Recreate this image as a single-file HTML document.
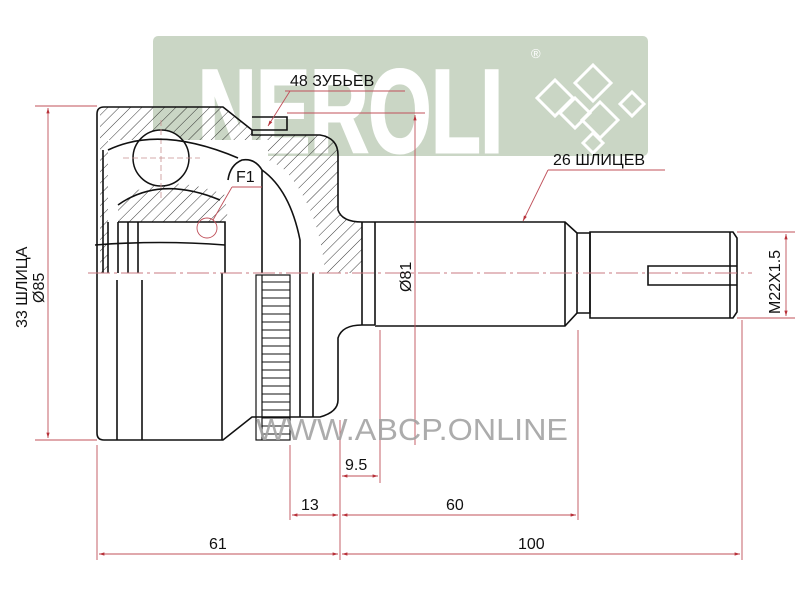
<!DOCTYPE html>
<html><head><meta charset="utf-8"><style>
html,body{margin:0;padding:0;background:#fff}
svg{display:block}
text{font-family:"Liberation Sans","DejaVu Sans",sans-serif}
</style></head><body>
<svg width="800" height="600" viewBox="0 0 800 600" xmlns="http://www.w3.org/2000/svg">
<defs>
<pattern id="h" width="8" height="8" patternUnits="userSpaceOnUse" patternTransform="rotate(45)">
<line x1="0" y1="0" x2="0" y2="8" stroke="#222" stroke-width="0.9"/>
</pattern>
<marker id="a" viewBox="0 0 10 10" refX="10" refY="5" markerWidth="9" markerHeight="6" orient="auto-start-reverse"><path d="M0,2 L10,5 L0,8z" fill="#b8323a"/></marker>
</defs>
<!-- logo -->
<rect x="153" y="36" width="495" height="120" rx="5" fill="#cad6c5"/>
<text x="198" y="152" font-size="118" font-weight="bold" fill="#fff" textLength="305" lengthAdjust="spacingAndGlyphs" stroke="#fff" stroke-width="3">NEROLI</text>
<text x="531" y="58" font-size="13" fill="#fff">®</text>
<g fill="none" stroke="#fff" stroke-width="3">
<path d="M555,80 L573,98 L555,116 L537,98z"/><path d="M593,65 L611,83 L593,101 L575,83z"/>
<path d="M600,102 L618,120 L600,138 L582,120z"/><path d="M632,92 L644,104 L632,116 L620,104z"/>
<path d="M575,98 L590,113 L575,128 L560,113z"/><path d="M593,133 L603,143 L593,153 L583,143z"/>
</g>
<!-- hatched body top half -->
<path d="M100,107 L223,107 L252,130 L252,135 L320,135 Q338,138 338,155 L338,210 Q340,220 362,222 L362,273 L100,273z" fill="url(#h)"/>
<rect x="108" y="140" width="160" height="133" fill="#fff"/>
<path d="M118,200 Q165,170 225,195 L228,222 L118,222z" fill="url(#h)"/>
<path d="M228,180 Q235,135 285,170 Q320,210 325,273 L265,273 L265,190z" fill="#fff"/>
<circle cx="161" cy="158" r="28" fill="#fff" stroke="#111" stroke-width="1.5"/>
<g stroke="#c89090" stroke-width="0.8" fill="none" stroke-dasharray="6,3">
<line x1="161" y1="120" x2="161" y2="200"/><line x1="123" y1="158" x2="200" y2="158"/>
</g>
<!-- body outline -->
<g fill="none" stroke="#111" stroke-width="1.6">
<path d="M104,107 L223,107 L252,130 L252,135 L320,135 Q338,138 338,155 L338,210 Q342,222 362,222 L375,222"/>
<path d="M104,440 L223,440 L252,417 L320,417 Q338,412 338,400 L338,338 Q342,325 362,325 L375,325"/>
<path d="M104,107 Q97,107 97,114 L97,433 Q97,440 104,440"/>
<path d="M252,117 L287,117 L287,130 L252,130"/>
<line x1="103" y1="150" x2="103" y2="273"/>
<path d="M108,222 L108,273 M118,222 L118,273 M128,222 L128,273 M138,222 L138,273"/>
<path d="M118,222 L225,222 L225,273"/>
<path d="M117,280 L117,440 M142,280 L142,440 M222,273 L222,440"/>
<path d="M228,180 Q230,165 242,160 Q255,158 262,170 L262,273"/>
<path d="M262,170 Q290,190 300,240 L300,273"/>
<path d="M108,150 Q160,125 238,158"/>
<path d="M95,245 Q160,240 225,245"/>
<path d="M118,205 Q160,175 220,200"/>
<path d="M313,273 L313,417 M300,273 L300,417"/>
</g>
<!-- ABS ring -->
<g stroke="#111" stroke-width="1.2" fill="none">
<rect x="256" y="275" width="34" height="165"/>
<line x1="262" y1="275" x2="262" y2="440"/>
</g>
<g stroke="#111" stroke-width="1">
<path d="M262,282H290M262,290H290M262,298H290M262,306H290M262,314H290M262,322H290M262,330H290M262,338H290M262,346H290M262,354H290M262,362H290M262,370H290M262,378H290M262,386H290M262,394H290M262,402H290M262,410H290M262,418H290M262,426H290M262,434H290"/>
</g>
<!-- shaft -->
<g fill="none" stroke="#111" stroke-width="1.6">
<path d="M362,222 L362,325 M375,222 L375,325"/>
<path d="M375,222 L565,222 L577,233 L577,313 L565,326 L375,326"/>
<path d="M565,222 L565,326"/>
<path d="M577,233 L590,233 L590,313 L577,313"/>
<path d="M590,232 L733,232 L737,238 L737,312 L733,318 L590,318 Z"/>
<line x1="730" y1="232" x2="730" y2="318"/>
<path d="M737,266 L648,266 L648,285 L737,285"/>
</g>
<!-- centerline -->
<line x1="88" y1="273" x2="752" y2="273" stroke="#c87a80" stroke-width="1" stroke-dasharray="22,4,3,4"/>
<!-- red dimension lines -->
<g stroke="#c0505a" stroke-width="0.9" fill="none">
<line x1="35" y1="106" x2="97" y2="106"/><line x1="35" y1="440" x2="97" y2="440"/>
<line x1="48" y1="108" x2="48" y2="438" marker-start="url(#a)" marker-end="url(#a)"/>
<line x1="97" y1="445" x2="97" y2="560"/>
<line x1="340" y1="420" x2="340" y2="560"/>
<line x1="742" y1="320" x2="742" y2="560"/>
<line x1="290" y1="445" x2="290" y2="520"/>
<line x1="380" y1="330" x2="380" y2="483"/>
<line x1="578" y1="330" x2="578" y2="520"/>
<line x1="415" y1="115" x2="415" y2="445" marker-start="url(#a)"/>
<line x1="287" y1="113" x2="425" y2="113"/>
<line x1="99" y1="554" x2="338" y2="554" marker-start="url(#a)" marker-end="url(#a)"/>
<line x1="342" y1="554" x2="740" y2="554" marker-start="url(#a)" marker-end="url(#a)"/>
<line x1="292" y1="515" x2="338" y2="515" marker-start="url(#a)" marker-end="url(#a)"/>
<line x1="342" y1="515" x2="576" y2="515" marker-start="url(#a)" marker-end="url(#a)"/>
<line x1="342" y1="476" x2="378" y2="476" marker-start="url(#a)" marker-end="url(#a)"/>
<line x1="737" y1="232" x2="795" y2="232"/><line x1="737" y1="318" x2="795" y2="318"/>
<line x1="786" y1="234" x2="786" y2="316" marker-start="url(#a)" marker-end="url(#a)"/>
<line x1="285" y1="91" x2="405" y2="91"/><line x1="290" y1="91" x2="268" y2="126" marker-end="url(#a)"/>
<line x1="548" y1="170" x2="665" y2="170"/><line x1="548" y1="170" x2="523" y2="221" marker-end="url(#a)"/>
<line x1="232" y1="187" x2="262" y2="187"/><line x1="232" y1="187" x2="213" y2="220"/>
<circle cx="207" cy="228" r="10"/>
</g>
<!-- watermark -->
<text x="256" y="440" font-size="31" fill="#a4a4a4" opacity="0.9" textLength="312" lengthAdjust="spacingAndGlyphs">WWW.ABCP.ONLINE</text>
<!-- labels -->
<g fill="#111" font-size="16">
<text x="290" y="86">48 ЗУБЬЕВ</text>
<text x="553" y="165">26 ШЛИЦЕВ</text>
<text x="236" y="182">F1</text>
<text x="345" y="470">9.5</text>
<text x="301" y="510">13</text>
<text x="446" y="510">60</text>
<text x="209" y="549">61</text>
<text x="518" y="549">100</text>
<text transform="translate(411,292) rotate(-90)">Ø81</text>
<text transform="translate(780,314) rotate(-90)">M22X1.5</text>
<text transform="translate(27,328) rotate(-90)">33 ШЛИЦА</text>
<text transform="translate(44,303) rotate(-90)">Ø85</text>
</g>
</svg>
</body></html>
